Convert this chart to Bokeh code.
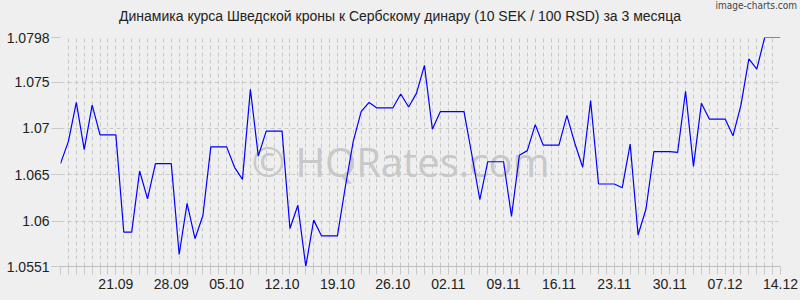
from datetime import date, timedelta
from bokeh.plotting import figure
from bokeh.models import Range1d, FixedTicker, Div
from bokeh.layouts import column
from bokeh.core.properties import value
from bokeh.embed import file_html
from bokeh.resources import INLINE

title_text = "Динамика курса Шведской кроны к Сербскому динару (10 SEK / 100 RSD) за 3 месяца"
source_text = "image-charts.com"
watermark_text = "© HQRates.com"

start_day = date(2023, 9, 14)
rates = [
    1.0662, 1.0686, 1.0728, 1.0677, 1.0725, 1.0693, 1.0693, 1.0693, 1.0588, 1.0588,
    1.0654, 1.0624, 1.0662, 1.0662, 1.0662, 1.0564, 1.0619, 1.0581, 1.0606, 1.0680,
    1.0680, 1.0680, 1.0658, 1.0645, 1.0742, 1.0670, 1.0697, 1.0697, 1.0697, 1.0592,
    1.0617, 1.0551, 1.0601, 1.0584, 1.0584, 1.0584, 1.0637, 1.0686, 1.0718, 1.0728,
    1.0722, 1.0722, 1.0722, 1.0737, 1.0723, 1.0738, 1.0768, 1.0699, 1.0718, 1.0718,
    1.0718, 1.0718, 1.0671, 1.0623, 1.0664, 1.0664, 1.0664, 1.0605, 1.0671, 1.0676,
    1.0704, 1.0682, 1.0682, 1.0682, 1.0714, 1.0684, 1.0658, 1.0730, 1.0640, 1.0640,
    1.0640, 1.0636, 1.0683, 1.0585, 1.0613, 1.0675, 1.0675, 1.0675, 1.0674, 1.0740,
    1.0659, 1.0727, 1.0710, 1.0710, 1.0710, 1.0692, 1.0725, 1.0775, 1.0764, 1.0798,
    1.0798, 1.0798,
]
dates = [(start_day + timedelta(days=i)).strftime("%d.%m") for i in range(len(rates))]
x_tick_labels = ["21.09", "28.09", "05.10", "12.10", "19.10", "26.10", "02.11",
                 "09.11", "16.11", "23.11", "30.11", "07.12", "14.12"]
y_ticks = [1.0551, 1.06, 1.065, 1.07, 1.075, 1.0798]
y_tick_labels = ["1.0551", "1.06", "1.065", "1.07", "1.075", "1.0798"]

xs = list(range(len(rates)))
FONT = "Liberation Sans"
BG = "#efefef"
GRID = "#c8c8c8"
HEAD = 29

header = Div(
    text=(
        f'<div style="position:relative;width:800px;height:{HEAD}px;background:{BG};">'
        f'<span style="position:absolute;left:0;top:8px;width:800px;text-align:center;'
        f'font-family:\'{FONT}\';font-size:14px;line-height:17px;color:#222222;'
        f'white-space:nowrap;">{title_text}</span>'
        f'<span style="position:absolute;right:3px;top:0px;font-family:\'DejaVu Sans Condensed\';'
        f'font-size:10px;line-height:12px;color:#444444;white-space:nowrap;">{source_text}</span>'
        '</div>'
    ),
    width=800, height=HEAD, margin=0, styles={"background-color": BG},
)

p = figure(width=800, height=300 - HEAD, output_backend="svg", toolbar_location=None,
           title=None, margin=0,
           x_range=Range1d(0, len(rates) - 1), y_range=Range1d(y_ticks[0], y_ticks[-1]),
           min_border_left=60, min_border_right=20, min_border_top=37 - HEAD,
           min_border_bottom=34)
p.background_fill_color = BG
p.border_fill_color = BG
p.outline_line_color = None

# x axis
p.xaxis.ticker = FixedTicker(ticks=xs)
overrides = {i: "" for i in xs}
for lab in x_tick_labels:
    overrides[dates.index(lab)] = lab
p.xaxis.major_label_overrides = overrides
p.xaxis.axis_line_color = "#bdbdbd"
p.xaxis.major_tick_line_color = GRID
p.xaxis.major_tick_out = 8
p.xaxis.major_tick_in = 0
p.xaxis.minor_tick_line_color = None
p.xaxis.major_label_text_font = FONT
p.xaxis.major_label_text_font_size = "14px"
p.xaxis.major_label_text_color = "#222222"
p.xaxis.major_label_standoff = 4

# y axis
p.yaxis.ticker = FixedTicker(ticks=y_ticks)
p.yaxis.major_label_overrides = dict(zip(y_ticks, y_tick_labels))
p.yaxis.axis_line_color = None
p.yaxis.major_tick_line_color = GRID
p.yaxis.major_tick_out = 9
p.yaxis.major_tick_in = 0
p.yaxis.minor_tick_line_color = None
p.yaxis.major_label_text_font = FONT
p.yaxis.major_label_text_font_size = "14px"
p.yaxis.major_label_text_color = "#222222"
p.yaxis.major_label_standoff = 2

for g in (p.xgrid, p.ygrid):
    g.grid_line_color = GRID
    g.grid_line_dash = "4 3"
    g.grid_line_width = 1

p.text(x=[43.0], y=[1.0664], text=[watermark_text], text_align="center",
       text_baseline="alphabetic", text_font=value("Open Sans"), text_font_size="40px",
       text_color="#c8c8c8")

p.line(xs, rates, line_color="#0000ff", line_width=1.2)

layout = column(header, p, spacing=0, margin=0, styles={"background-color": BG})
open("out.html", "w").write(file_html(layout, INLINE))
